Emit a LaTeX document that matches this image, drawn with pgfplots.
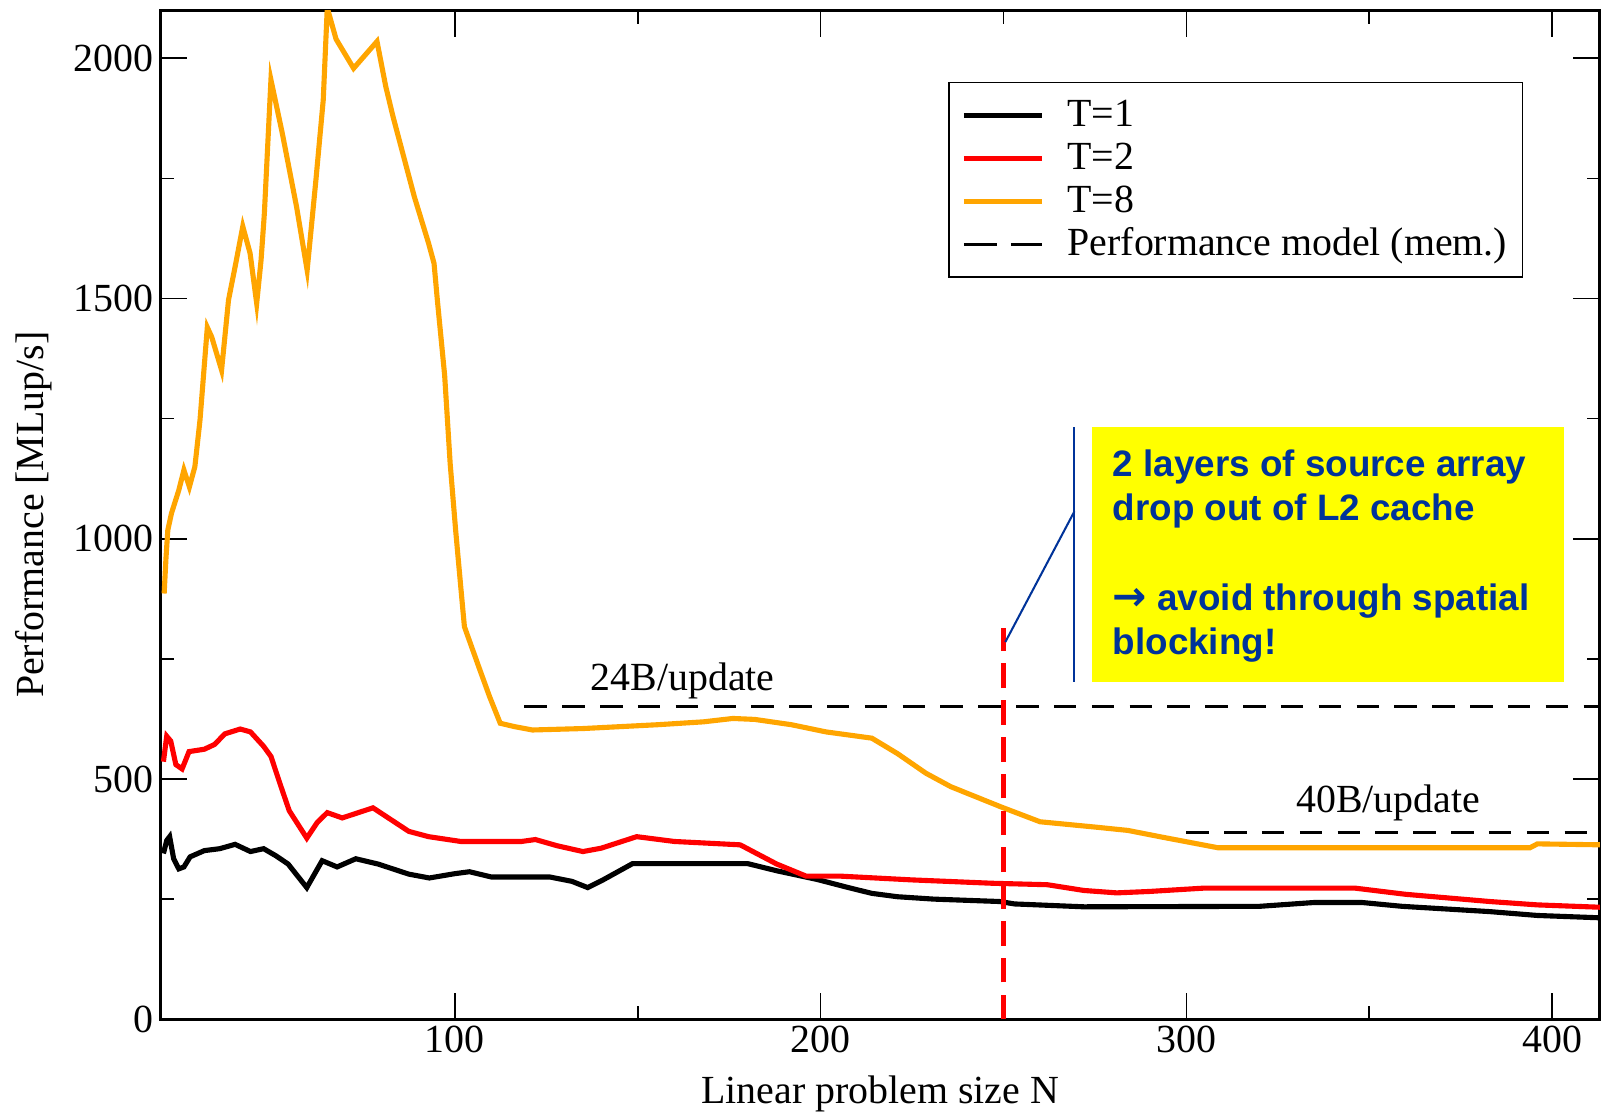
\documentclass[border=0pt]{standalone}
\usepackage{pgfplots}
\pgfplotsset{compat=1.18}
\usepackage{fontspec}
\setmainfont{Liberation Serif}
\newfontfamily\boxfont{Liberation Sans}
\newfontfamily\arrowfont{DejaVu Sans}
\definecolor{torange}{RGB}{255,165,0}
\definecolor{tblue}{RGB}{0,51,153}
\definecolor{tyellow}{RGB}{255,255,0}
\newcommand\bigf{\fontsize{19.5}{23.4}\selectfont}
\newcommand\boxf{\boxfont\bfseries\fontsize{18}{21.75}\selectfont}

\begin{document}
\begin{tikzpicture}
\begin{axis}[
  name=ax,
  scale only axis, width=704pt, height=493.5pt,
  xmin=19.5, xmax=413.1, ymin=0, ymax=2100,
  xtick={100,200,300,400}, ytick={0,500,1000,1500,2000},
  minor tick num=1,
  major tick length=13pt, minor tick length=6.5pt,
  tick align=inside,
  every tick/.style={line width=0.75pt, black},
  axis line style={line width=1.5pt},
  font=\bigf,
  tick label style={font=\bigf},
  /pgf/number format/assume math mode=true,
  /pgf/number format/1000 sep={},
  scaled ticks=false,
  xlabel={Linear problem size N},
  ylabel={Performance [MLup/s]},
  xlabel style={at={(axis description cs:0.5,-0.074)}, anchor=center, font=\bigf},
  ylabel style={at={(axis description cs:-0.0881,0.5)}, anchor=center, font=\bigf},
  legend style={at={(rel axis cs:0.9467,0.9291)}, anchor=north east, draw=black,
    line width=0.75pt, font=\bigf, inner xsep=6pt, inner ysep=5.5pt,
    nodes={inner sep=1.5pt, text height=14.5pt, text depth=3.5pt},
    cells={anchor=west}},
  legend image code/.code={\draw[#1] (0pt,0pt) -- (38pt,0pt); \path (48pt,0pt);},
  legend cell align=left,
]
\addplot[black, line width=2.5pt] coordinates {
(20.3,345) (21.2,372) (22.0,380) (23.1,334) (24.5,313) (25.9,317) (27.6,338)
(31.5,351) (35.7,355) (39.9,364) (44.1,349) (47.7,355) (51.1,340) (54.4,323)
(59.5,274) (63.7,330) (67.8,317) (72.9,334) (79.0,323) (87.4,302) (93.0,294)
(100,303) (104,307) (110,296) (126,296) (132,287) (136.3,274) (140.5,290)
(148.6,324) (180,324) (188,309) (199,291) (207.6,274) (214,262) (221,255)
(231,250) (249,245) (253,240) (272,234) (320,235) (335,243) (348,243)
(359,235) (383,224) (396,216) (413.5,211)
};
\addlegendentry{T=1}
\addplot[red, line width=2.5pt] coordinates {
(20.3,536) (21.2,589) (22.3,579) (23.7,530) (25.4,521) (27.3,557) (31.5,562)
(34.3,572) (37.1,594) (41.3,604) (44.1,598) (47.7,568) (49.7,547) (52.5,483)
(54.7,434) (59.5,377) (62.3,409) (65.1,430) (69.2,419) (72.0,426) (77.6,440)
(81.8,419) (87.4,391) (92.8,380) (101.6,370) (118.2,370) (122,374) (128,361)
(135,349) (140,356) (149.7,380) (160,370) (178,363) (188,323) (196,298)
(205,298) (225,290) (247,283) (262,280) (272,268) (281,263) (290,266)
(305,273) (346,273) (360,260) (383,245) (396,238) (413.5,233)
};
\addlegendentry{T=2}
\addplot[torange, line width=2.5pt] coordinates {
(20.5,886) (21.0,960) (21.5,1018) (22.5,1053) (24.5,1101) (25.9,1143)
(27.4,1108) (28.9,1150) (30.3,1247) (32.3,1440) (33.5,1420) (36.2,1351)
(38.1,1497) (40.0,1570) (42.0,1650) (44.0,1594) (45.8,1490) (47.0,1580)
(47.9,1677) (49.7,1955) (52.8,1844) (56.7,1691) (59.6,1559) (62.0,1747)
(64.0,1913) (65.1,2105) (67.5,2040) (72.3,1979) (78.7,2035) (81.1,1941)
(83.1,1878) (86.0,1795) (88.9,1712) (92.8,1615) (94.3,1573) (95.2,1497)
(97.2,1340) (98.7,1157) (100.2,1018) (101.6,900) (102.6,817) (106.5,734)
(109.5,671) (112.4,616) (116.3,609) (121.2,602) (135,605) (155.5,613)
(168,619) (176,626) (182,624) (192,613) (201.5,598) (214,585) (221,553)
(228.8,512) (235.6,484) (249.3,442) (260,411) (275,400) (284,393)
(293.4,379) (308.6,357) (394,357) (396,365) (413.5,363)
};
\addlegendentry{T=8}
\addplot[black, line width=1.5pt, dash pattern=on 11pt off 7.5pt,
  legend image code/.code={\draw[black, line width=1.5pt, dash pattern=on 16pt off 7pt] (0pt,0pt) -- (38pt,0pt); \path (48pt,0pt);}]
  coordinates {(119,651) (420,651)};
\addlegendentry{Performance model (mem.)}
\addplot[black, line width=1.5pt, dash pattern=on 11pt off 7.5pt, forget plot] coordinates {(300,389) (420,389)};
\draw[red, line width=2pt, dash pattern=on 12pt off 6pt] (axis cs:250,0) -- (axis cs:250,815);
\node[anchor=base, inner sep=0pt] at (axis cs:162.3,685) {24B/update};
\node[anchor=base, inner sep=0pt] at (axis cs:355.2,430) {40B/update};
\fill[tyellow] (axis cs:274.2,1232) rectangle (axis cs:403.3,702);
\draw[tblue, line width=1pt] (axis cs:269.4,1232) -- (axis cs:269.4,702);
\draw[tblue, line width=1pt] (axis cs:250.5,785) -- (axis cs:269.4,1057);
\node[anchor=base west, inner sep=0pt, text=tblue, font=\boxf] at (axis cs:279.8,1130) {2 layers of source array};
\node[anchor=base west, inner sep=0pt, text=tblue, font=\boxf] at (axis cs:279.8,1037) {drop out of L2 cache};
\node[anchor=base west, inner sep=0pt, text=tblue, font=\boxf] at (axis cs:279.8,851) {{\arrowfont\bfseries\fontsize{20}{21.75}\selectfont →} avoid through spatial};
\node[anchor=base west, inner sep=0pt, text=tblue, font=\boxf] at (axis cs:279.8,758.5) {blocking!};
\end{axis}
\pgfresetboundingbox
\path[use as bounding box] ([shift={(-78.5pt,-46.5pt)}]ax.south west) rectangle ([shift={(1.5pt,5pt)}]ax.north east);
\end{tikzpicture}
\end{document}
